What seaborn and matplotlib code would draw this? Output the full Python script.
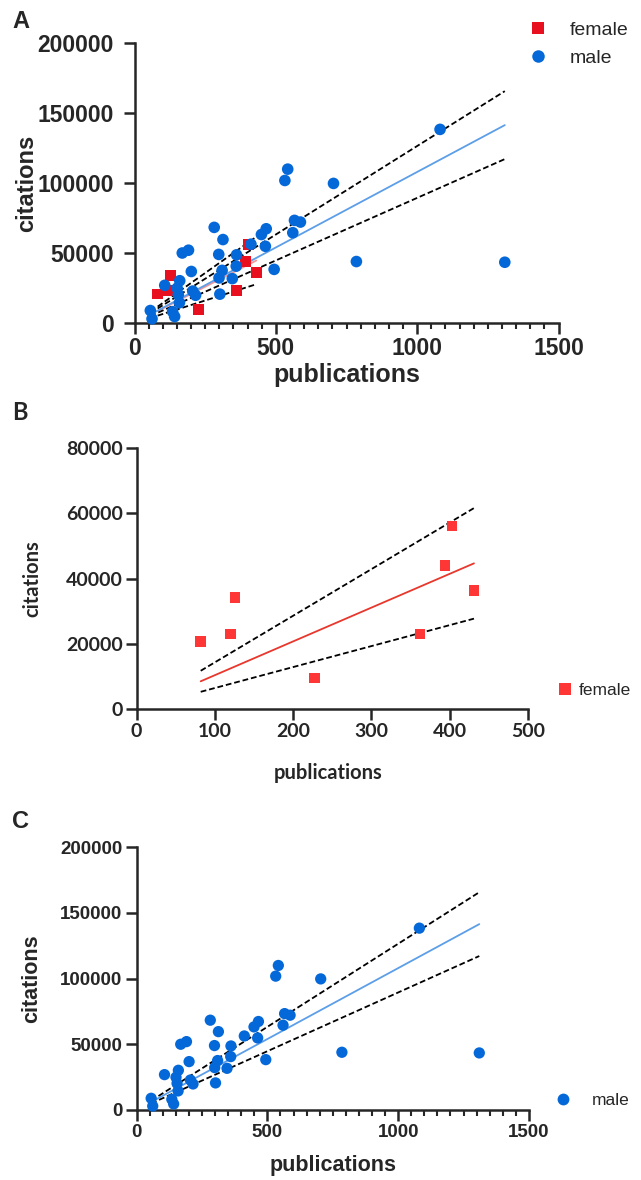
import math
import numpy as np
import pandas as pd
import matplotlib
matplotlib.use("Agg")
import matplotlib.pyplot as plt
import seaborn as sns
from matplotlib.lines import Line2D
from matplotlib.ticker import MultipleLocator

# data
female_pubs = [82, 120, 126, 227, 362, 394, 403, 431]
female_cites = [20700, 23000, 34200, 9500, 23000, 44000, 56100, 36400]

male_pubs = [1081, 542, 532, 704, 566, 587, 560, 282, 466, 449,
             313, 412, 463, 191, 169, 298, 361, 360, 494, 785,
             310, 201, 299, 346, 107, 160, 151, 206, 216, 302,
             155, 159, 56, 135, 62, 142, 1310]
male_cites = [138300, 109900, 101800, 99700, 73300, 72100, 64500, 68300, 67300, 63200,
              59600, 56300, 54800, 52000, 50000, 49000, 48700, 40600, 38300, 43900,
              37600, 36800, 32200, 31700, 26900, 30200, 24900, 22800, 19800, 20600,
              20300, 14500, 8900, 8100, 3000, 4600, 43400]

female = pd.DataFrame({"publications": female_pubs, "citations": female_cites})
male = pd.DataFrame({"publications": male_pubs, "citations": male_cites})

RED = "#E8101E"
RED_B = "#FF3636"
BLUE = "#0568D8"
BLUE_LINE = "#5C9EE8"


def t_crit(df, p=0.975):
    x = np.linspace(0, 30, 300001)
    c = math.gamma((df + 1) / 2) / (math.sqrt(df * math.pi) * math.gamma(df / 2))
    pdf = c * (1 + x ** 2 / df) ** (-(df + 1) / 2)
    cdf = 0.5 + np.concatenate([[0], np.cumsum((pdf[1:] + pdf[:-1]) / 2 * (x[1] - x[0]))])
    return np.interp(p, cdf, x)


def origin_fit(df):
    # linear fit through the origin with 95% confidence band
    x = df["publications"].to_numpy(float)
    y = df["citations"].to_numpy(float)
    sxx = np.sum(x * x)
    b = np.sum(x * y) / sxx
    s = np.sqrt(np.sum((y - b * x) ** 2) / (len(x) - 1))
    h = t_crit(len(x) - 1) * s / np.sqrt(sxx)
    xs = np.array([x.min(), x.max()])
    return xs, b * xs, (b - h) * xs, (b + h) * xs


def draw_fit(ax, df, color, alpha=1.0):
    xs, mid, lo, hi = origin_fit(df)
    dash = (0, (3.2, 1.6))
    for band in (lo, hi):
        sns.lineplot(x=xs, y=band, ax=ax, color="black", linestyle=dash, lw=1.3,
                     errorbar=None, zorder=3)
    sns.lineplot(x=xs, y=mid, ax=ax, color=color, lw=1.3, alpha=alpha,
                 errorbar=None, zorder=3)


def style_axes(ax, tick_size, family, minor=None, ypad=2):
    for side in ["top", "right"]:
        ax.spines[side].set_visible(False)
    for side in ["left", "bottom"]:
        ax.spines[side].set_linewidth(1.8)
    ax.tick_params(which="major", direction="out", length=8, width=1.8,
                   labelsize=tick_size, pad=2)
    ax.tick_params(axis="y", which="major", pad=ypad)
    ax.tick_params(which="minor", direction="out", length=4.5, width=1.5)
    if minor:
        ax.xaxis.set_minor_locator(MultipleLocator(minor))
    for lab in ax.get_xticklabels() + ax.get_yticklabels():
        lab.set_fontweight("bold")
        lab.set_family(family)


def handle(marker, color, size):
    return Line2D([], [], marker=marker, color=color, markersize=size, linestyle="none",
                  markeredgewidth=0)


sns.set_style("ticks")
plt.rcParams["font.family"] = ["Liberation Sans", "DejaVu Sans"]

fig = plt.figure(figsize=(6.41, 11.8), dpi=100)
W, H = 641, 1180


def add_axes(l, r, t, b):
    return fig.add_axes([l / W, 1 - b / H, (r - l) / W, (b - t) / H])


# ---- Panel A ----
axA = add_axes(134.5, 558.5, 43, 323)
draw_fit(axA, female, "#F28C8C", alpha=0.9)
draw_fit(axA, male, BLUE_LINE)
sns.scatterplot(data=female, x="publications", y="citations", ax=axA, marker="s",
                color=RED, s=62, edgecolor="none", zorder=4, clip_on=False)
sns.scatterplot(data=male, x="publications", y="citations", ax=axA, marker="o",
                color=BLUE, s=70, edgecolor="none", zorder=4, clip_on=False)
axA.set_xlim(0, 1500)
axA.set_ylim(0, 200000)
axA.set_xticks([0, 500, 1000, 1500])
axA.set_yticks([0, 50000, 100000, 150000, 200000])
style_axes(axA, 16.5, "Liberation Sans", minor=50, ypad=7)
axA.set_xlabel("publications", fontsize=18, fontweight="bold", labelpad=2)
axA.set_ylabel("citations", fontsize=17, fontweight="bold")
axA.yaxis.set_label_coords(-0.228, 0.5)
axA.legend([handle("s", RED, 8.5), handle("o", BLUE, 9)], ["female", "male"],
           loc="upper left", frameon=False, borderpad=0, borderaxespad=0,
           bbox_to_anchor=(528 / W, 1 - 21 / H), bbox_transform=fig.transFigure,
           fontsize=14, handlelength=1.0, handletextpad=1.15, labelspacing=0.55)

# ---- Panel B ----
axB = add_axes(136.5, 528, 448, 709)
draw_fit(axB, female, "#E8372C")
sns.scatterplot(data=female, x="publications", y="citations", ax=axB, marker="s",
                color=RED_B, s=58, edgecolor="none", zorder=4)
axB.set_xlim(0, 500)
axB.set_ylim(0, 80000)
axB.set_xticks([0, 100, 200, 300, 400, 500])
axB.set_yticks([0, 20000, 40000, 60000, 80000])
style_axes(axB, 14, "Lato")
axB.set_xlabel("publications", fontsize=14.5, fontweight="bold", family="Lato")
axB.set_ylabel("citations", fontsize=14.5, fontweight="bold", family="Lato")
axB.xaxis.set_label_coords(0.49, -0.205)
axB.yaxis.set_label_coords(-0.24, 0.5)
axB.legend([handle("s", RED_B, 8.5)], ["female"], loc="center left", frameon=False,
           borderpad=0, borderaxespad=0,
           bbox_to_anchor=(558 / W, 1 - 690 / H), bbox_transform=fig.transFigure,
           fontsize=12.5, handlelength=0.8, handletextpad=0.4)

# ---- Panel C ----
axC = add_axes(136.5, 529, 847, 1110)
draw_fit(axC, male, BLUE_LINE)
sns.scatterplot(data=male, x="publications", y="citations", ax=axC, marker="o",
                color=BLUE, s=66, edgecolor="none", zorder=4, clip_on=False)
axC.set_xlim(0, 1500)
axC.set_ylim(0, 200000)
axC.set_xticks([0, 500, 1000, 1500])
axC.set_yticks([0, 50000, 100000, 150000, 200000])
style_axes(axC, 13.5, "Liberation Sans", minor=50)
axC.set_xlabel("publications", fontsize=15.5, fontweight="bold")
axC.set_ylabel("citations", fontsize=15.5, fontweight="bold")
axC.xaxis.set_label_coords(0.5, -0.17)
axC.yaxis.set_label_coords(-0.24, 0.5)
axC.legend([handle("o", BLUE, 8.5)], ["male"], loc="center left", frameon=False,
           borderpad=0, borderaxespad=0,
           bbox_to_anchor=(556 / W, 1 - 1100 / H), bbox_transform=fig.transFigure,
           fontsize=12.5, handlelength=0.85, handletextpad=1.2)

# panel letters
for letter, y in [("A", 22), ("B", 413), ("C", 822)]:
    fig.text(12 / W, 1 - y / H, letter, fontsize=17, fontweight="bold",
             va="center", ha="left", family="Liberation Sans" if letter != "B" else "Lato")

fig.savefig("out.png", dpi=100)
